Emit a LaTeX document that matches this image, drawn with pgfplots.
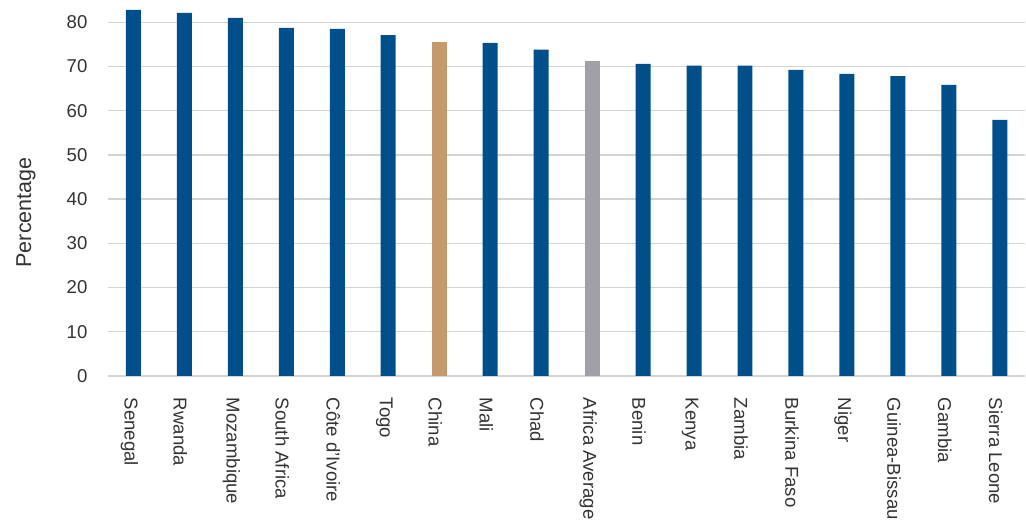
\documentclass[border=0pt]{standalone}
\usepackage{pgfplots}
\pgfplotsset{compat=1.18}
\usepackage{fontspec}
\setmainfont{Liberation Sans}
\definecolor{barblue}{HTML}{004F8B}
\definecolor{bartan}{HTML}{C49A6C}
\definecolor{bargray}{HTML}{A0A1A5}
\definecolor{txt}{HTML}{333333}
\definecolor{gridc}{HTML}{D3D3D3}
\begin{document}
\begin{tikzpicture}
\begin{axis}[
  scale only axis,
  width=918pt, height=376pt,
  xmin=-0.5, xmax=17.5,
  ymin=0, ymax=85,
  ytick={0,10,...,80},
  xtick={0,...,17},
  xticklabels={Senegal,Rwanda,Mozambique,South Africa,C\^ote d'Ivoire,Togo,China,Mali,Chad,Africa Average,Benin,Kenya,Zambia,Burkina Faso,Niger,Guinea-Bissau,Gambia,Sierra Leone},
  axis line style={draw=none},
  major tick length=0pt,
  ymajorgrids,
  grid style={gridc, line width=1.4pt},
  font=\fontsize{18.6}{21}\selectfont,
  /pgf/number format/assume math mode=true,
  ticklabel style={text=txt},
  yticklabel style={xshift=-17pt},
  xticklabel style={rotate=-90, anchor=west, xshift=18.5pt, yshift=-4pt},
  every axis y label/.style={at={(axis description cs:0,0.435)}, xshift=-82pt, rotate=90, anchor=center, text=txt, font=\fontsize{21.5}{24}\selectfont},
  ylabel={Percentage},
  bar width=15pt,
  clip=false,
]
\addplot[ybar, bar shift=0pt, fill=barblue, draw=none] coordinates {
(0,82.8) (1,82.1) (2,81.0) (3,78.7) (4,78.5) (5,77.1) (7,75.3) (8,73.8)
(10,70.6) (11,70.15) (12,70.15) (13,69.2) (14,68.3) (15,67.8) (16,65.8) (17,57.9)};
\addplot[ybar, bar shift=0pt, fill=bartan, draw=none] coordinates {(6,75.5)};
\addplot[ybar, bar shift=0pt, fill=bargray, draw=none] coordinates {(9,71.3)};
\end{axis}
\path (current axis.south west) ++(-108pt,-149pt) rectangle ++(1026pt,525pt);
\end{tikzpicture}
\end{document}
